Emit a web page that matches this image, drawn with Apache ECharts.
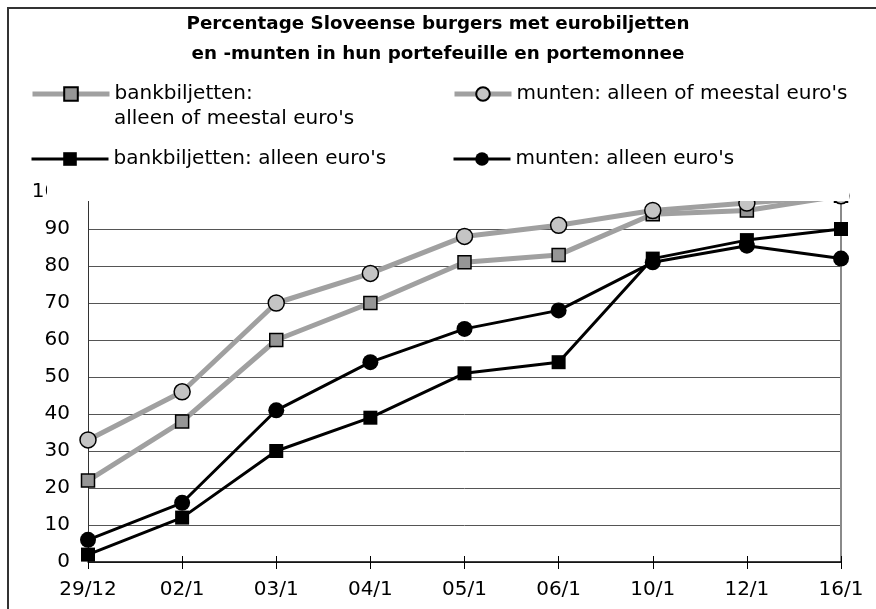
<!DOCTYPE html>
<html>
<head>
<meta charset="utf-8">
<script src="https://cdn.jsdelivr.net/npm/echarts@6/dist/echarts.min.js"></script>
<style>html,body{margin:0;padding:0;background:#fff}#c{width:876px;height:609px}</style>
</head>
<body>
<div id="c"></div>
<script>
const categories = ['29/12','02/1','03/1','04/1','05/1','06/1','10/1','12/1','16/1'];
const seriesNames = [
  "bankbiljetten: alleen of meestal euro's",
  "munten: alleen of meestal euro's",
  "bankbiljetten: alleen euro's",
  "munten: alleen euro's"
];
const notesMostly = [22, 38, 60, 70, 81, 83, 94, 95, 99];
const coinsMostly = [33, 46, 70, 78, 88, 91, 95, 97, 99];
const notesOnly = [2, 12, 30, 39, 51, 54, 82, 87, 90];
const coinsOnly = [6, 16, 41, 54, 63, 68, 81, 85.5, 82];
const titleLines = ['Percentage Sloveense burgers met eurobiljetten', 'en -munten in hun portefeuille en portemonnee'];

const FONT = 'DejaVu Sans';
const GRAY_LINE = '#a0a0a0';
const chart = echarts.init(document.getElementById('c'));

function legendAt(name, left, top, w, lineColor, lineWidth, fmt) {
  return {
    data: [name], left: left, top: top, padding: 0, z: 61,
    itemWidth: w, itemHeight: 17, orient: 'horizontal',
    selectedMode: false,
    formatter: fmt || (n => n),
    lineStyle: { color: lineColor, width: lineWidth },
    textStyle: { fontFamily: FONT, fontSize: 20, lineHeight: 17, color: '#000', padding: [0,0,0,0] }
  };
}

// the original legend box is white and overlaps the top of the plot area:
// legend #2 carries that white box (padding extends it over the plot top)
const coverLegend = legendAt(seriesNames[1], 47, 10, 57, GRAY_LINE, 5);
coverLegend.padding = [74, 2, 97, 405];
coverLegend.backgroundColor = '#fff';
coverLegend.z = 60;

chart.setOption({
  animation: false,
  backgroundColor: '#fff',
  title: [{
    text: titleLines.join('\n'),
    left: 'center', top: 9, padding: 0, z: 61,
    textStyle: { fontFamily: FONT, fontWeight: 'bold', fontSize: 18.3, lineHeight: 30, color: '#000' }
  }, {
    text: "alleen of meestal euro's",
    left: 114, top: 109, padding: 0, z: 61,
    textStyle: { fontFamily: FONT, fontWeight: 'normal', fontSize: 20, color: '#000' }
  }],
  legend: [
    legendAt(seriesNames[0], 30, 84, 77, GRAY_LINE, 5, () => 'bankbiljetten:'),
    coverLegend,
    legendAt(seriesNames[2], 30, 149, 77, '#000', 3),
    legendAt(seriesNames[3], 452, 149, 57, '#000', 3)
  ],
  grid: { left: 88, right: 35, top: 192, bottom: 47, containLabel: false },
  xAxis: [{
    type: 'category', data: categories, boundaryGap: false,
    axisLine: { lineStyle: { color: '#000', width: 1.5 } },
    axisTick: { show: true, length: 7, lineStyle: { color: '#000', width: 1 } },
    axisLabel: { fontFamily: FONT, fontSize: 20, color: '#000', margin: 18 },
    splitLine: { show: false }
  }, {
    type: 'category', data: categories, boundaryGap: false, position: 'bottom',
    axisLine: { show: false },
    axisTick: { show: true, inside: true, length: 6, lineStyle: { color: '#000', width: 1 } },
    axisLabel: { show: false }, splitLine: { show: false }
  }],
  yAxis: [{
    type: 'value', min: 0, max: 100, interval: 10,
    axisLine: { show: true, lineStyle: { color: '#333', width: 1 } },
    axisTick: { show: false },
    axisLabel: { fontFamily: FONT, fontSize: 20, color: '#000', margin: 18 },
    splitLine: { show: true, lineStyle: { color: '#555', width: 1 } }
  }, {
    type: 'value', min: 0, max: 100, interval: 10, position: 'right',
    axisLine: { show: true, lineStyle: { color: '#8a8a8a', width: 2 } },
    axisTick: { show: false }, axisLabel: { show: false }, splitLine: { show: false }
  }],
  graphic: {
    z: 300,
    elements: [
      { type: 'rect', shape: { x: 8, y: 8, width: 1000, height: 800 }, style: { fill: 'none', stroke: '#333', lineWidth: 2 } }
    ]
  },
  series: [
    { name: seriesNames[0], type: 'line', data: notesMostly, symbol: 'rect', symbolSize: 13,
      lineStyle: { color: GRAY_LINE, width: 5 },
      itemStyle: { color: '#969696', borderColor: '#000', borderWidth: 1.5 } },
    { name: seriesNames[1], type: 'line', data: coinsMostly, symbol: 'circle', symbolSize: 16,
      lineStyle: { color: GRAY_LINE, width: 5 },
      itemStyle: { color: '#c4c4c4', borderColor: '#000', borderWidth: 1.5 } },
    { name: seriesNames[2], type: 'line', data: notesOnly, symbol: 'rect', symbolSize: 14,
      lineStyle: { color: '#000', width: 3 },
      itemStyle: { color: '#000', borderColor: '#000', borderWidth: 0 } },
    { name: seriesNames[3], type: 'line', data: coinsOnly, symbol: 'circle', symbolSize: 16,
      lineStyle: { color: '#000', width: 3 },
      itemStyle: { color: '#000', borderColor: '#000', borderWidth: 0 } }
  ]
});
</script>
</body>
</html>
